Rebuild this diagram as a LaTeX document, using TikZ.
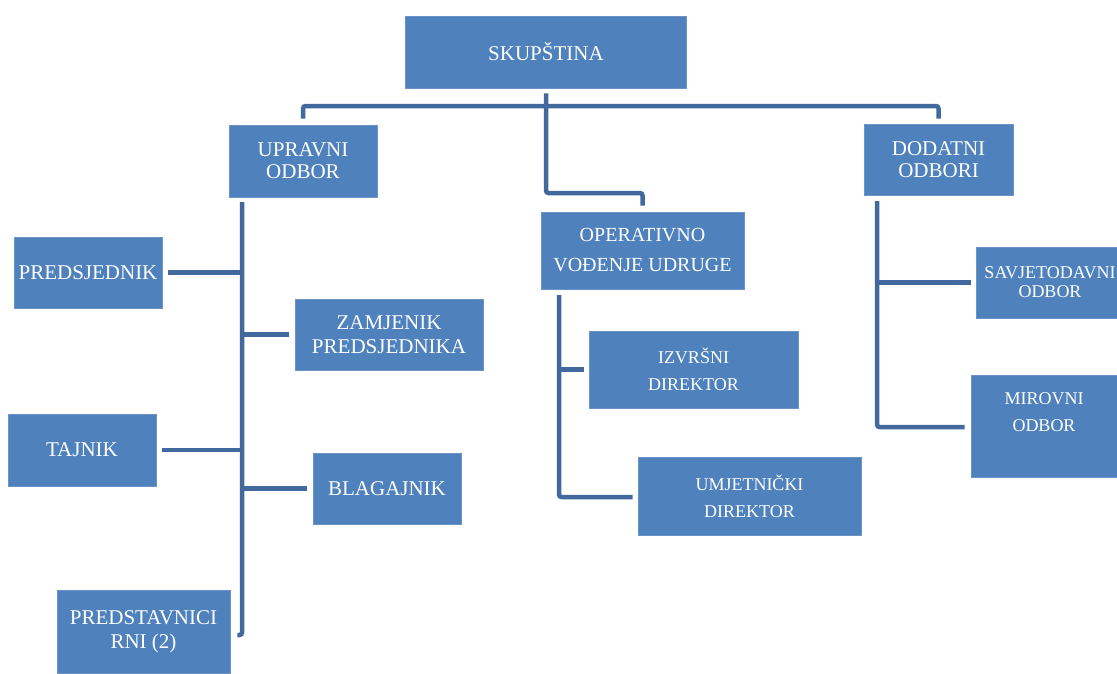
\documentclass[tikz,border=0pt]{standalone}
\usepackage{fontspec}
\setmainfont{Liberation Serif}
\usepackage{tikz}
\definecolor{boxblue}{HTML}{4F81BD}
\definecolor{boxedge}{HTML}{6A94C8}
\definecolor{linkblue}{HTML}{41699E}

\begin{document}
\begin{tikzpicture}[x=1pt, y=-1pt,
  unit/.style={fill=boxblue, draw=boxedge, line width=0.8pt, text=white, align=center, inner sep=0pt, font=\fontsize{21}{24}\selectfont},
  smallunit/.style={unit, font=\fontsize{18}{27}\selectfont},
  link/.style={draw=linkblue, line width=4.5pt, rounded corners=2.5pt}]
\clip (0,0) rectangle (1117,673); % page
\node[unit, minimum width=281pt, minimum height=72pt] (sku) at (546,52) {SKUPŠTINA}; % Skupstina
\node[unit, minimum width=148pt, minimum height=72pt, font=\fontsize{21}{22}\selectfont] (upr) at (303,161) {UPRAVNI\\ODBOR}; % Upravni
\node[unit, minimum width=203pt, minimum height=77pt, font=\fontsize{20}{30}\selectfont] (ope) at (642.5,250.5) {OPERATIVNO\\VOĐENJE UDRUGE}; % Operativno
\node[unit, minimum width=149pt, minimum height=71pt, font=\fontsize{21}{22}\selectfont] (dod) at (938.5,159.5) {DODATNI\\ODBORI}; % Dodatni
\node[unit, minimum width=148pt, minimum height=71pt] (pre) at (88,272.5) {PREDSJEDNIK}; % Predsjednik
\node[unit, minimum width=188pt, minimum height=71pt] (zam) at (389,334.5) {ZAMJENIK\\PREDSJEDNIKA}; % Zamjenik
\node[unit, minimum width=148pt, minimum height=72pt] (taj) at (82,450) {TAJNIK}; % Tajnik
\node[unit, minimum width=148pt, minimum height=71pt] (bla) at (387,488.5) {BLAGAJNIK}; % Blagajnik
\node[unit, minimum width=173pt, minimum height=83pt] (rni) at (143.5,631.5) {PREDSTAVNICI\\RNI (2)}; % Predstavnici
\node[smallunit, minimum width=209pt, minimum height=77pt] (izv) at (693.5,369.5) {IZVRŠNI\\DIREKTOR}; % Izvrsni
\node[smallunit, minimum width=223pt, minimum height=78pt] (umj) at (749.5,496) {UMJETNIČKI\\DIREKTOR}; % Umjetnicki
\node[smallunit, minimum width=148pt, minimum height=71pt, font=\fontsize{18}{19}\selectfont] (sav) at (1050,282.5) {SAVJETODAVNI\\ODBOR}; % Savjetodavni
\node[smallunit, minimum width=146pt, minimum height=102pt] (mir) at (1044,426) {MIROVNI\\ODBOR\\\mbox{}}; % Mirovni
\coordinate (skuJ) at (546,193); % turn to operativno
\coordinate (bar) at (546,106); % top bar
\coordinate (uprTop) at (242,202); % spine upravni
\coordinate (uprEnd) at (242,635);
\coordinate (opeTop) at (559,295); % spine operativno
\coordinate (opeEnd) at (559,497);
\coordinate (dodTop) at (877,201); % spine dodatni
\coordinate (dodEnd) at (877,427);
\draw[link] ([yshift=-5pt]sku.south) -- (skuJ) -| ([yshift=6pt]ope.north); % sku-ope
\draw[link] ([yshift=6pt]upr.north) |- (bar) -| ([yshift=5pt]dod.north); % upr-dod
\draw[link] (uprTop) -- (uprEnd) -- ([xshift=7pt]rni.east |- uprEnd); % upr-rni
\draw[link] ([xshift=6pt]pre.east) -- (pre.east -| uprTop); % pre
\draw[link] (zam.west -| uprTop) -- ([xshift=-6pt]zam.west); % zam
\draw[link] ([xshift=6pt]taj.east) -- (taj.east -| uprTop); % taj
\draw[link] (bla.west -| uprTop) -- ([xshift=-6pt]bla.west); % bla
\draw[link] (opeTop) -- (opeEnd) -- ([xshift=-5pt]umj.west |- opeEnd); % ope-umj
\draw[link] (izv.west -| opeTop) -- ([xshift=-5pt]izv.west); % izv
\draw[link] (dodTop) -- (dodEnd) -- ([xshift=-6pt]mir.west |- dodEnd); % dod-mir
\draw[link] (sav.west -| dodTop) -- ([xshift=-5pt]sav.west); % sav
\end{tikzpicture}
\end{document}
